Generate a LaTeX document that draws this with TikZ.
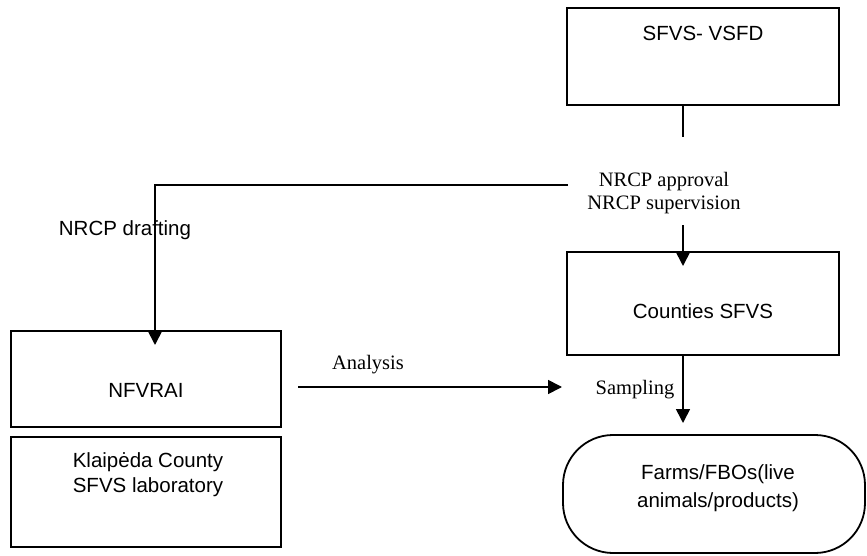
\documentclass[tikz,border=0pt]{standalone}
\usepackage{fontspec}
\setmainfont{Liberation Serif}
\setsansfont{Liberation Sans}
\usetikzlibrary{arrows.meta}
\begin{document}
\begin{tikzpicture}[x=1pt,y=-1pt,
  box/.style={draw, line width=1.8pt, rectangle, inner sep=0pt},
  sanstext/.style={font=\sffamily\fontsize{20.5}{25}\selectfont, inner sep=0pt, align=center},
  seriftext/.style={font=\rmfamily\fontsize{20.5}{23}\selectfont, inner sep=0pt, align=center},
  conn/.style={line width=1.7pt},
  arr/.style={line width=1.7pt, -{Triangle[length=14pt,width=14pt]}}]
\useasboundingbox (0,0) rectangle (867,556);
% boxes
\node[box, minimum width=272pt, minimum height=97pt] (sfvs) at (703,56.5) {};
\node[sanstext] (sfvstext) at (703,33) {SFVS- VSFD};
\node[box, minimum width=272pt, minimum height=103pt] (counties) at (703,303.5) {};
\node[sanstext] (countiestext) at (703,311) {Counties SFVS};
\node[box, minimum width=270pt, minimum height=96pt] (nfvrai) at (146,379) {};
\node[sanstext] (nfvraitext) at (146,390) {NFVRAI};
\node[box, minimum width=270pt, minimum height=110pt] (klaipeda) at (146,492) {};
\node[sanstext, font=\sffamily\fontsize{20.5}{25}\selectfont] (klaipedatext) at (148,475) {Klaipėda County\\SFVS laboratory};
\node[draw, line width=1.8pt, rectangle, rounded corners=50pt, minimum width=302pt, minimum height=118pt] (farms) at (714,494) {};
\node[sanstext, font=\sffamily\fontsize{20.5}{28}\selectfont] (farmstext) at (718,488) {Farms/FBOs(live\\animals/products)};
% labels
\node[seriftext] (nrcp) at (664,193.5) {NRCP approval\\NRCP supervision};
\node[sanstext] (drafting) at (125,230) {NRCP drafting};
\node[seriftext] (analysis) at (368,365) {Analysis};
\node[seriftext] (sampling) at (635,390) {Sampling};
% coordinates
\coordinate (stubend) at (683,137);
\coordinate (hl) at (568,185);
\coordinate (nfin) at (155,345);
\coordinate (supend) at (683,225);
\coordinate (ctip) at (683,266);
\coordinate (stip) at (683,423);
\coordinate (astart) at (298,387);
\coordinate (aend) at (562,387);
% connectors
\draw[conn] (sfvs.south -| stubend) -- (stubend);
\draw[arr] (hl) -| (nfin);
\draw[arr] (supend) -- (ctip);
\draw[arr] (counties.south -| stip) -- (stip);
\draw[arr] (astart) -- (aend);
\end{tikzpicture}
\end{document}
